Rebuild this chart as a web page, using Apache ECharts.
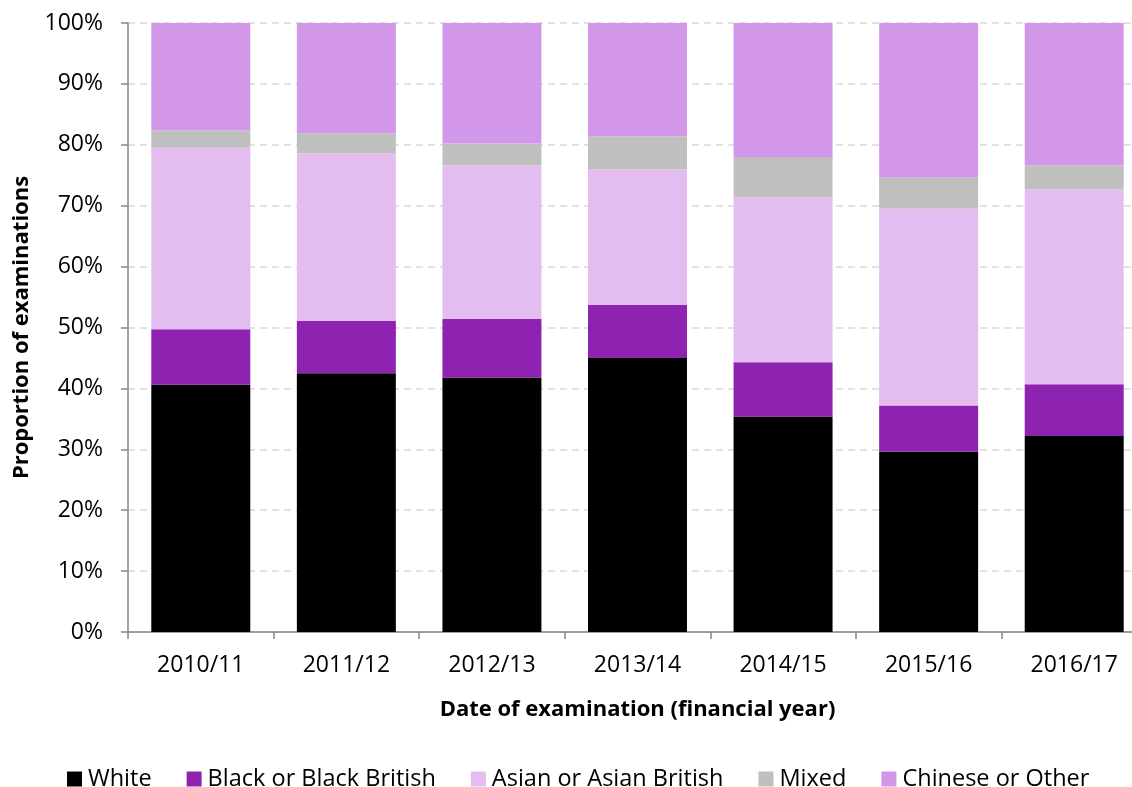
<!DOCTYPE html>
<html>
<head>
<meta charset="utf-8">
<script src="https://cdn.jsdelivr.net/npm/echarts@6/dist/echarts.min.js"></script>
<style>html,body{margin:0;padding:0;background:#fff}#c{width:1132px;height:787px}</style>
</head>
<body>
<div id="c"></div>
<script>
const categories = ['2010/11','2011/12','2012/13','2013/14','2014/15','2015/16','2016/17'];
const white   = [40.6, 42.5, 41.8, 45.0, 35.4, 29.6, 32.2];
const black   = [9.1, 8.6, 9.6, 8.7, 8.9, 7.6, 8.5];
const asian   = [29.8, 27.5, 25.2, 22.3, 27.1, 32.3, 32.0];
const mixed   = [2.9, 3.3, 3.6, 5.4, 6.6, 5.1, 3.9];
const chinese = [17.6, 18.1, 19.8, 18.6, 22.0, 25.4, 23.4];
const seriesNames = ['White','Black or Black British','Asian or Asian British','Mixed','Chinese or Other'];
const colors = ['#000000','#8E22B1','#E3BCF0','#BFBFBF','#D397EA'];

const font = 'Open Sans';
const chart = echarts.init(document.getElementById('c'), null, {renderer:'canvas'});
const datasets = [white, black, asian, mixed, chinese];
chart.setOption({
  animation: false,
  color: colors,
  textStyle: {fontFamily: font},
  grid: {left: 128, top: 23, width: 1019, height: 609, containLabel: false, outerBoundsMode: 'none'},
  legend: {
    data: seriesNames,
    left: 67, top: 767, padding: 0,
    icon: 'rect', itemWidth: 15, itemHeight: 15, itemGap: 35,
    textStyle: {fontFamily: font, fontSize: 23.5, color: '#000', padding: [0,0,0,1]}
  },
  xAxis: {
    type: 'category', data: categories,
    name: 'Date of examination (financial year)', nameLocation: 'middle', nameGap: 67,
    nameTextStyle: {fontFamily: font, fontSize: 22, fontWeight: 'bold', color: '#000'},
    axisLine: {lineStyle: {color: '#868686', width: 1.5}},
    axisTick: {show: true, length: 7, lineStyle: {color: '#868686', width: 1.5}},
    axisLabel: {fontFamily: font, fontSize: 23, color: '#000', margin: 22}
  },
  yAxis: {
    type: 'value', min: 0, max: 100, interval: 10,
    name: 'Proportion of examinations', nameLocation: 'middle', nameGap: 95,
    nameTextStyle: {fontFamily: font, fontSize: 22, fontWeight: 'bold', color: '#000'},
    axisLine: {show: true, lineStyle: {color: '#868686', width: 1.5}},
    axisTick: {show: true, length: 7, lineStyle: {color: '#868686', width: 1.5}},
    axisLabel: {formatter: '{value}%', fontFamily: font, fontSize: 23, color: '#000', margin: 25},
    splitLine: {show: true, lineStyle: {color: '#D9D9D9', width: 1.5, type: [7,5]}}
  },
  series: seriesNames.map((n, i) => ({
    name: n, type: 'bar', stack: 'total', data: datasets[i],
    barCategoryGap: '32%',
    itemStyle: {color: colors[i]}
  }))
});
</script>
</body>
</html>
